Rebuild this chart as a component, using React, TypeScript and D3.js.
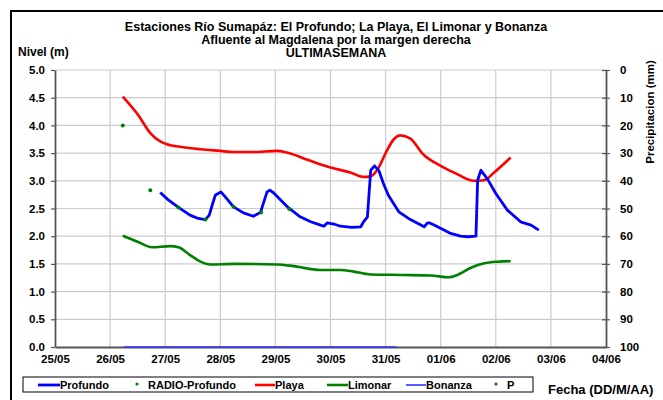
import React, { useEffect, useRef } from "react";
import * as d3 from "d3";

// Days counted from 25/05 (0) to 04/06 (10)
const dateLabels = ["25/05", "26/05", "27/05", "28/05", "29/05", "30/05", "31/05", "01/06", "02/06", "03/06", "04/06"];
const levelTicks = [0, 0.5, 1, 1.5, 2, 2.5, 3, 3.5, 4, 4.5, 5];
const rainTicks = [0, 10, 20, 30, 40, 50, 60, 70, 80, 90, 100];

const profundo: [number, number][] = [
  [1.91, 2.79], [2.05, 2.66], [2.24, 2.52], [2.45, 2.38], [2.6, 2.32], [2.73, 2.3], [2.8, 2.38], [2.85, 2.55],
  [2.91, 2.74], [3.01, 2.8], [3.09, 2.71], [3.24, 2.53], [3.42, 2.42], [3.6, 2.36], [3.73, 2.43], [3.8, 2.65],
  [3.85, 2.8], [3.9, 2.83], [3.97, 2.78], [4.1, 2.65], [4.24, 2.51], [4.45, 2.35], [4.64, 2.26], [4.82, 2.2],
  [4.88, 2.18], [4.94, 2.24], [5.06, 2.22], [5.18, 2.18], [5.39, 2.16], [5.55, 2.17], [5.6, 2.26], [5.67, 2.35],
  [5.73, 3.19], [5.8, 3.27], [5.88, 3.18], [5.96, 2.95], [6.05, 2.74], [6.15, 2.58], [6.24, 2.44], [6.45, 2.3],
  [6.7, 2.17], [6.76, 2.24], [6.8, 2.24], [6.88, 2.2], [7.06, 2.11], [7.18, 2.05], [7.36, 2.0], [7.5, 1.99],
  [7.64, 2.0], [7.67, 3.01], [7.73, 3.19], [7.85, 3.03], [8.0, 2.77], [8.21, 2.47], [8.45, 2.26], [8.64, 2.2],
  [8.78, 2.11],
];

const radioProfundo: [number, number][] = [
  [1.73, 2.83], [2.24, 2.52], [2.73, 2.3], [3.24, 2.53], [3.74, 2.43], [4.25, 2.49],
];

const playa: [number, number][] = [
  [1.23, 4.52], [1.5, 4.2], [1.73, 3.86], [1.91, 3.71], [2.03, 3.66], [2.3, 3.61], [2.64, 3.57], [3.0, 3.54],
  [3.24, 3.52], [3.6, 3.52], [4.03, 3.54], [4.21, 3.51], [4.58, 3.38], [5.0, 3.24], [5.36, 3.15], [5.6, 3.07],
  [5.73, 3.08], [5.85, 3.2], [6.03, 3.56], [6.15, 3.75], [6.27, 3.82], [6.45, 3.76], [6.69, 3.47], [7.0, 3.27],
  [7.3, 3.12], [7.6, 3.0], [7.79, 3.01], [7.97, 3.15], [8.27, 3.42],
];

const limonar: [number, number][] = [
  [1.23, 2.01], [1.5, 1.9], [1.76, 1.8], [2.09, 1.82], [2.24, 1.8], [2.45, 1.66], [2.64, 1.54], [2.82, 1.49],
  [3.24, 1.5], [4.03, 1.49], [4.33, 1.46], [4.82, 1.39], [5.18, 1.39], [5.42, 1.36], [5.73, 1.31], [6.33, 1.3],
  [6.82, 1.29], [7.15, 1.26], [7.3, 1.3], [7.55, 1.43], [7.79, 1.51], [8.03, 1.54], [8.27, 1.55],
];

const bonanza: [number, number][] = [[1.25, 0], [6.2, 0]];

const precip: [number, number][] = [[1.23, 20]];

const W = 663;
const H = 400;
const FONT = "'Liberation Sans', Arial, sans-serif";

export default function App() {
  const ref = useRef<SVGSVGElement>(null);

  useEffect(() => {
    const svg = d3.select(ref.current);
    svg.selectAll("*").remove();

    const left = 55, right = 606, top = 70, bottom = 347;
    const x = d3.scaleLinear().domain([0, 10]).range([left, right]);
    const y = d3.scaleLinear().domain([0, 5]).range([bottom, top]);
    const yr = d3.scaleLinear().domain([0, 100]).range([top, bottom]);

    svg.append("rect").attr("width", W).attr("height", H).attr("fill", "#fff");
    svg.append("rect").attr("x", 11).attr("y", 11).attr("width", 700).attr("height", 500)
      .attr("fill", "none").attr("stroke", "#000").attr("stroke-width", 2);

    // grid
    const g = svg.append("g");
    g.selectAll(".hg").data(levelTicks.slice(1)).enter().append("line")
      .attr("x1", left).attr("x2", right).attr("y1", d => y(d)).attr("y2", d => y(d))
      .attr("stroke", "#cccccc").attr("stroke-width", 1.2);
    g.selectAll(".vg").data(d3.range(1, 10)).enter().append("line")
      .attr("y1", top).attr("y2", bottom).attr("x1", d => x(d)).attr("x2", d => x(d))
      .attr("stroke", "#cccccc").attr("stroke-width", 1.2);

    // axes
    const axL = svg.append("g").attr("transform", `translate(${left},0)`)
      .call(d3.axisLeft(y).tickValues(levelTicks).tickFormat(d3.format(".1f")).tickSize(4).tickPadding(6).tickSizeOuter(0));
    const axR = svg.append("g").attr("transform", `translate(${right},0)`)
      .call(d3.axisRight(yr).tickValues(rainTicks).tickFormat(d3.format("d")).tickSize(4).tickPadding(10).tickSizeOuter(0));
    axR.selectAll(".tick").append("line").attr("x1", -4).attr("x2", 0).attr("stroke", "#555");
    const axB = svg.append("g").attr("transform", `translate(0,${bottom})`)
      .call(d3.axisBottom(x).tickValues(d3.range(0, 11)).tickFormat((d: any) => dateLabels[d]).tickSize(0).tickPadding(8).tickSizeOuter(0));
    [axL, axR, axB].forEach(a => {
      a.select(".domain").attr("stroke", "#555").attr("stroke-width", 1.8);
      a.selectAll(".tick line").attr("stroke", "#555").attr("stroke-width", 1.2);
      a.selectAll("text").attr("font-family", FONT).attr("font-weight", "bold").attr("font-size", 11.5).attr("fill", "#000");
    });
    axR.selectAll("text").attr("text-anchor", "start");

    // lines
    const smooth = d3.line<[number, number]>().x(d => x(d[0])).y(d => y(d[1])).curve(d3.curveMonotoneX);
    const straight = d3.line<[number, number]>().x(d => x(d[0])).y(d => y(d[1]));
    svg.append("path").datum(bonanza).attr("d", straight).attr("fill", "none").attr("stroke", "#3333ff").attr("stroke-width", 1.6);
    svg.append("path").datum(limonar).attr("d", smooth).attr("fill", "none").attr("stroke", "#008000").attr("stroke-width", 2.6);
    svg.append("path").datum(playa).attr("d", smooth).attr("fill", "none").attr("stroke", "#ff0000").attr("stroke-width", 2.6);
    svg.append("path").datum(profundo).attr("d", straight).attr("fill", "none").attr("stroke", "#0000ff").attr("stroke-width", 2.8)
      .attr("stroke-linejoin", "round");
    svg.selectAll(".rp").data(radioProfundo).enter().append("circle")
      .attr("cx", d => x(d[0])).attr("cy", d => y(d[1])).attr("r", 2).attr("fill", "#008000");
    svg.selectAll(".pp").data(precip).enter().append("circle")
      .attr("cx", d => x(d[0])).attr("cy", d => yr(d[1])).attr("r", 2).attr("fill", "#008000");

    // titles
    const t = (txt: string, tx: number, ty: number, anchor = "middle", size = 12.5) =>
      svg.append("text").attr("x", tx).attr("y", ty).attr("text-anchor", anchor)
        .attr("font-family", FONT).attr("font-weight", "bold").attr("font-size", size).text(txt);
    t("Estaciones Río Sumapáz: El Profundo; La Playa, El Limonar y Bonanza", 336, 31);
    t("Afluente al Magdalena por la margen derecha", 336, 44);
    t("ULTIMASEMANA", 336, 57);
    t("Nivel (m)", 18, 56, "start", 12);
    svg.append("text").attr("transform", "translate(654,112) rotate(-90)").attr("text-anchor", "middle")
      .attr("font-family", FONT).attr("font-weight", "bold").attr("font-size", 11.5).text("Precipitacion (mm)");
    t("Fecha (DD/M/AA)", 548, 394, "start", 13);

    // legend
    const lg = svg.append("g");
    lg.append("rect").attr("x", 23).attr("y", 377).attr("width", 510).attr("height", 15)
      .attr("fill", "#fff").attr("stroke", "#000").attr("stroke-width", 1);
    const ly = 385;
    const items = [
      { name: "Profundo", type: "line", color: "#0000ff", w: 2.8, sx: 38, tx: 60 },
      { name: "RADIO-Profundo", type: "dot", color: "#008000", w: 0, sx: 137, tx: 148 },
      { name: "Playa", type: "line", color: "#ff0000", w: 2.6, sx: 255, tx: 275 },
      { name: "Limonar", type: "line", color: "#008000", w: 2.6, sx: 327, tx: 348 },
      { name: "Bonanza", type: "line", color: "#3333ff", w: 1.6, sx: 406, tx: 426 },
      { name: "P", type: "dot", color: "#008000", w: 0, sx: 496, tx: 507 },
    ];
    items.forEach(it => {
      if (it.type === "line") {
        lg.append("line").attr("x1", it.sx).attr("x2", it.tx).attr("y1", ly).attr("y2", ly)
          .attr("stroke", it.color).attr("stroke-width", it.w);
      } else {
        lg.append("circle").attr("cx", it.sx).attr("cy", ly - 1).attr("r", 1.6).attr("fill", it.color);
      }
      lg.append("text").attr("x", it.tx).attr("y", ly + 4).attr("font-family", FONT).attr("font-weight", "bold")
        .attr("font-size", 11).text(it.name);
    });
  }, []);

  return (
    <svg ref={ref} width={W} height={H} style={{ position: "absolute", left: 0, top: 0 }} />
  );
}
